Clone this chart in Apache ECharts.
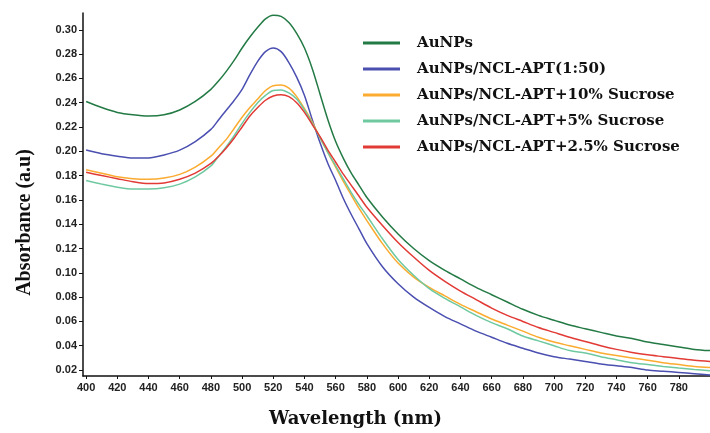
<!DOCTYPE html>
<html>
<head>
<meta charset="utf-8">
<script src="https://cdn.jsdelivr.net/npm/echarts@6/dist/echarts.min.js"></script>
<style>
html,body{margin:0;padding:0;background:#fff;}
#chart{width:710px;height:433px;}
</style>
</head>
<body>
<div id="chart"></div>
<script>
var wavelengths = [400,410,420,430,440,450,460,470,480,485,490,495,500,505,510,515,520,525,530,535,540,545,550,555,560,565,570,575,580,590,600,610,620,630,640,650,660,670,680,690,700,710,720,730,740,750,760,770,780,790,800];

var seriesNames = ['AuNPs','AuNPs/NCL-APT(1:50)','AuNPs/NCL-APT+10% Sucrose','AuNPs/NCL-APT+5% Sucrose','AuNPs/NCL-APT+2.5% Sucrose'];

var auNPs = [0.241,0.236,0.232,0.230,0.229,0.230,0.234,0.241,0.251,0.258,0.266,0.275,0.285,0.294,0.302,0.309,0.312,0.311,0.306,0.297,0.285,0.268,0.247,0.226,0.208,0.194,0.182,0.172,0.162,0.146,0.132,0.120,0.110,0.102,0.095,0.088,0.082,0.076,0.070,0.065,0.061,0.057,0.054,0.051,0.048,0.046,0.043,0.041,0.039,0.037,0.036];

var aptamer = [0.201,0.198,0.196,0.1945,0.1945,0.197,0.201,0.208,0.218,0.226,0.234,0.242,0.251,0.263,0.274,0.282,0.285,0.282,0.273,0.261,0.246,0.226,0.207,0.190,0.176,0.161,0.148,0.136,0.124,0.105,0.091,0.080,0.0715,0.064,0.058,0.052,0.047,0.042,0.038,0.034,0.031,0.029,0.027,0.025,0.0235,0.022,0.020,0.019,0.018,0.017,0.016];

var sucrose10 = [0.1848,0.182,0.179,0.1775,0.177,0.178,0.181,0.187,0.196,0.203,0.210,0.219,0.228,0.236,0.243,0.250,0.254,0.2545,0.252,0.245,0.235,0.224,0.211,0.199,0.187,0.175,0.164,0.153,0.143,0.124,0.108,0.0965,0.088,0.081,0.074,0.068,0.062,0.057,0.052,0.047,0.043,0.040,0.037,0.034,0.032,0.030,0.028,0.026,0.0245,0.023,0.022];

var sucrose5 = [0.1759,0.173,0.1705,0.169,0.169,0.170,0.173,0.179,0.188,0.196,0.204,0.213,0.223,0.232,0.240,0.246,0.250,0.2505,0.248,0.243,0.234,0.223,0.211,0.199,0.188,0.177,0.166,0.156,0.147,0.128,0.111,0.098,0.087,0.079,0.072,0.065,0.059,0.054,0.048,0.044,0.040,0.036,0.034,0.031,0.0285,0.026,0.0245,0.023,0.0217,0.0205,0.0195];

var sucrose25 = [0.1827,0.180,0.1775,0.175,0.1735,0.174,0.177,0.182,0.190,0.196,0.203,0.211,0.220,0.229,0.236,0.242,0.2455,0.2465,0.245,0.240,0.232,0.222,0.212,0.201,0.191,0.181,0.172,0.163,0.154,0.139,0.125,0.113,0.102,0.093,0.085,0.078,0.071,0.065,0.060,0.055,0.051,0.047,0.0435,0.040,0.037,0.0345,0.0325,0.031,0.0295,0.028,0.027];

var xTickValues = [400,420,440,460,480,500,520,540,560,580,600,620,640,660,680,700,720,740,760,780,800];
var xLabelValues = [400,420,440,460,480,500,520,540,560,580,600,620,640,660,680,700,720,740,760,780];
var yTickValues = [0.02,0.04,0.06,0.08,0.10,0.12,0.14,0.16,0.18,0.20,0.22,0.24,0.26,0.28,0.30];

var colors = ['#237a45','#4a4fb0','#fbab2f','#6fc9a0','#e23a35'];
var allData = [auNPs, aptamer, sucrose10, sucrose5, sucrose25];

function pairs(arr){
  var out = [];
  for (var i = 0; i < wavelengths.length; i++) out.push([wavelengths[i], arr[i]]);
  return out;
}

var series = [];
for (var k = 0; k < seriesNames.length; k++) {
  series.push({
    name: seriesNames[k],
    type: 'line',
    data: pairs(allData[k]),
    smooth: 0.3,
    showSymbol: false,
    symbol: 'none',
    lineStyle: { color: colors[k], width: 1.5 },
    itemStyle: { color: colors[k] },
    emphasis: { disabled: true }
  });
}

var chart = echarts.init(document.getElementById('chart'), null, {renderer: 'canvas'});
chart.setOption({
  backgroundColor: '#ffffff',
  animation: false,
  grid: { left: 83, right: 0, top: 13, bottom: 53, containLabel: false },
  legend: {
    orient: 'vertical',
    left: 363,
    top: 35,
    padding: 0,
    itemWidth: 37,
    itemHeight: 3,
    itemGap: 10,
    icon: 'rect',
    data: seriesNames,
    textStyle: {
      fontFamily: 'DejaVu Serif',
      fontWeight: 'bold',
      fontSize: 15,
      color: '#111',
      lineHeight: 16,
      padding: [0, 0, 0, 12]
    }
  },
  xAxis: {
    type: 'value',
    min: 398,
    max: 800,
    name: 'Wavelength (nm)',
    nameLocation: 'middle',
    nameGap: 34,
    nameTextStyle: {
      fontFamily: 'DejaVu Serif',
      fontWeight: 'bold',
      fontSize: 18,
      color: '#111',
      padding: [0, 82, 0, 0]
    },
    axisLine: { show: true, onZero: false, lineStyle: { color: '#111', width: 1.5 } },
    axisTick: { show: true, length: 3, customValues: xTickValues, lineStyle: { color: '#111', width: 1 } },
    axisLabel: {
      customValues: xLabelValues,
      fontFamily: 'Liberation Sans',
      fontWeight: 'bold',
      fontSize: 11,
      color: '#222',
      margin: 6
    },
    splitLine: { show: false }
  },
  yAxis: {
    type: 'value',
    min: 0.0151,
    max: 0.3138,
    name: 'Absorbance (a.u)',
    nameLocation: 'middle',
    nameGap: 48,
    nameRotate: 90,
    nameTextStyle: {
      fontFamily: 'Liberation Serif',
      fontWeight: 'bold',
      fontSize: 20,
      color: '#111',
      padding: [0, 56, 0, 0]
    },
    axisLine: { show: true, onZero: false, lineStyle: { color: '#111', width: 1.5 } },
    axisTick: { show: true, length: 4, customValues: yTickValues, lineStyle: { color: '#111', width: 1 } },
    axisLabel: {
      customValues: yTickValues,
      formatter: function (v) { return v.toFixed(2); },
      fontFamily: 'Liberation Sans',
      fontWeight: 'bold',
      fontSize: 11,
      color: '#222',
      margin: 6
    },
    splitLine: { show: false }
  },
  series: series
});
</script>
</body>
</html>
